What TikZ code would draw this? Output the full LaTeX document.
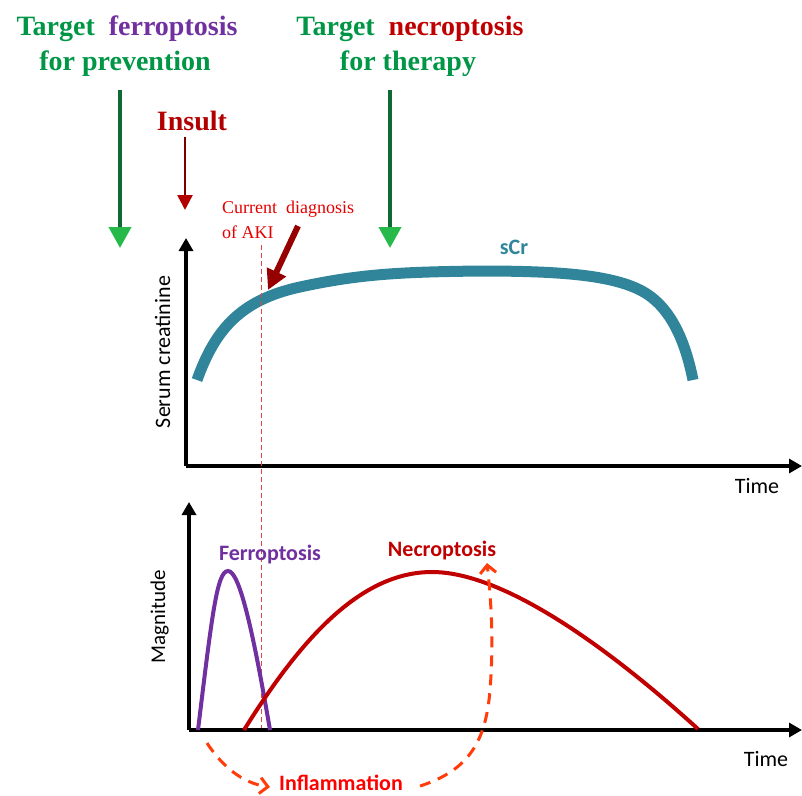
\documentclass[tikz,border=0pt]{standalone}
\usepackage{fontspec}
\setmainfont{Liberation Serif}
\newfontfamily\tnr{Liberation Serif}[BoldFont={Liberation Serif Bold}]
\newfontfamily\calib{Carlito}
\usetikzlibrary{arrows.meta}

\definecolor{tgreen}{RGB}{0,150,70}
\definecolor{gdark}{RGB}{15,105,50}
\definecolor{gbright}{RGB}{40,185,75}
\definecolor{tpurple}{RGB}{112,48,160}
\definecolor{necro}{RGB}{192,0,0}
\definecolor{insult}{RGB}{178,0,0}
\definecolor{aki}{RGB}{150,0,0}
\definecolor{akiline}{RGB}{225,70,70}
\definecolor{scr}{RGB}{49,133,155}
\definecolor{inflam}{RGB}{255,60,10}

\begin{document}
\begin{tikzpicture}[
  x=1pt, y=-1pt,
  title/.style={font=\tnr\fontsize{28}{32}\selectfont\bfseries, text=tgreen, inner sep=0pt, anchor=base},
  axlabel/.style={font=\calib\fontsize{22}{26}\selectfont, inner sep=0pt, anchor=base},
  curvelabel/.style={axlabel, font=\calib\fontsize{22}{26}\selectfont\bfseries},
  axis/.style={line width=4pt, -{Triangle[length=13pt,width=14pt]}},
  target/.style={gdark, line width=4pt, -{Triangle[length=21pt,width=22pt,fill=gbright,color=gbright]}},
  infl/.style={inflam, line width=3pt, dash pattern=on 11pt off 8pt, -{Straight Barb[length=8pt,width=16pt,line width=3pt]}}
  ]
\useasboundingbox (0,0) rectangle (802,795);

\node[title] (fer1) at (127,35) {Target~ \textcolor{tpurple}{ferroptosis}};
\node[title] (fer2) at (125,70) {for prevention};
\node[title] (nec1) at (410,35) {Target~ \textcolor{necro}{necroptosis}};
\node[title] (nec2) at (408,70) {for therapy};
\node[title, text=insult] (ins) at (192,130) {Insult};

\coordinate (fs) at (120,90);
\coordinate (fe) at (120,248);
\coordinate (ns) at (390,90);
\coordinate (ne) at (390,248);
\coordinate (is) at (185,137);
\coordinate (ie) at (185,210);
\draw[target] (fs) -- (fe);
\draw[target] (ns) -- (ne);
\draw[aki!80!black, line width=2.5pt, -{Triangle[length=15pt,width=15pt,fill=insult,color=insult]}] (is) -- (ie);

% upper plot
\coordinate (o1) at (186,466);
\coordinate (y1) at (186,238);
\coordinate (x1) at (802,466);
\draw[scr, line width=3pt] (185,392) -- (185,448);
\draw[axis] (o1) -- (y1);
\draw[axis] (o1) -- (x1);
\node[axlabel, rotate=90] (ylab1) at (170,352) {Serum creatinine};
\node[axlabel] (t1) at (757,493) {Time};

\draw[scr, line width=11pt] (197,380) .. controls (215,330) and (240,300) .. (300,287)
  .. controls (360,274) and (400,272) .. (480,271)
  .. controls (560,271) and (610,275) .. (640,290)
  .. controls (670,305) and (685,340) .. (693,380);
\node[curvelabel, text=scr] (scrlab) at (514,254) {sCr};

% current diagnosis
\draw[akiline, dash pattern=on 5pt off 3pt, line width=1pt] (261,245) -- (261,733);
\node[font=\tnr\fontsize{18}{25}\selectfont, text=red!90!black, align=left, anchor=north west, inner sep=0pt] (diag) at (222,201) {Current~ diagnosis\\of AKI};
\coordinate (ds) at (298,226);
\coordinate (de) at (268,290);
\draw[aki, line width=6pt, -{Triangle[length=20pt,width=20pt]}] (ds) -- (de);

% lower plot
\coordinate (o2) at (189,730);
\coordinate (y2) at (189,502);
\coordinate (x2) at (802,730);
\draw[axis] (o2) -- (y2);
\draw[axis] (o2) -- (x2);
\node[axlabel, rotate=90, font=\calib\fontsize{21}{25}\selectfont] (ylab2) at (165,617) {Magnitude};
\node[axlabel] (t2) at (766,766) {Time};

\draw[tpurple, line width=4pt] (198,730) .. controls (212,615) and (217,571) .. (228,571)
  .. controls (239,571) and (252,625) .. (270,730);
\draw[necro, line width=4pt] (244,730) .. controls (300,640) and (360,572) .. (432,572)
  .. controls (500,572) and (600,640) .. (698,729);
\node[curvelabel, text=tpurple] (ferlab) at (270,560) {Ferroptosis};
\node[curvelabel, text=necro] (neclab) at (442,556) {Necroptosis};

\node[curvelabel, text=red] (inf) at (341,790) {Inflammation};
\coordinate (a1) at (207,743);
\coordinate (a2) at (270,787);
\coordinate (b1) at (420,786);
\coordinate (b2) at (487,563);
\draw[infl] (a1) .. controls (222,766) and (242,783) .. (a2);
\draw[infl] (b1) .. controls (470,770) and (486,740) .. (490,690)
  .. controls (494,640) and (491,600) .. (b2);
\end{tikzpicture}
\end{document}
